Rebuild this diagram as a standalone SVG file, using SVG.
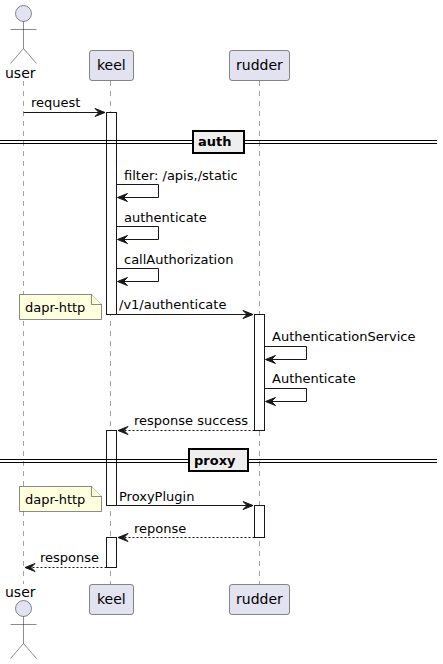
<svg xmlns="http://www.w3.org/2000/svg" width="443" height="664" viewBox="0 0 443 664">
<style>
text{font-family:"DejaVu Sans",sans-serif;font-size:13px;fill:#000}
.life{stroke:#181818;stroke-width:.5;stroke-dasharray:5 5;fill:none;opacity:.8}
.part{fill:#E2E2F0;stroke:#181818;stroke-width:.5}
.act{fill:#fff;stroke:#181818;stroke-width:1}
.msg{stroke:#181818;stroke-width:1;fill:none}
.dash{stroke-dasharray:2 2}
.head{fill:#181818;stroke:#181818;stroke-width:1}
.note{fill:#FEFFDD;stroke:#181818;stroke-width:.5}
.div{fill:#EEEEEE;stroke:#000;stroke-width:2}
.divl{stroke:#000;stroke-width:1;fill:none}
.b{font-weight:bold}
.n14{font-size:14px}
</style>
<defs>
<g id="ar"><polygon class="head" points="0,0 -10,-4 -6,0 -10,4"/></g>
<g id="al"><polygon class="head" points="0,0 10,-4 6,0 10,4"/></g>
</defs>
<g id="lifelines">
<line class="life" x1="23.5" y1="81" x2="23.5" y2="584"/>
<line class="life" x1="110.5" y1="81" x2="110.5" y2="584"/>
<line class="life" x1="259.5" y1="81" x2="259.5" y2="584"/>
</g>
<g id="activations">
<rect class="act" x="106.5" y="112.5" width="10" height="202"/>
<rect class="act" x="254.5" y="314.5" width="10" height="116"/>
<rect class="act" x="106.5" y="430.5" width="10" height="75"/>
<rect class="act" x="254.5" y="505.5" width="10" height="32"/>
<rect class="act" x="106.5" y="537.5" width="10" height="30"/>
</g>
<g id="connectors">
<line class="msg" x1="23.5" y1="112.5" x2="104" y2="112.5"/><use href="#ar" x="105" y="112.5"/>
<text x="31" y="107">request</text>
<path class="msg" d="M116.5 184.5H158.5V197.5H118"/><use href="#al" x="117.5" y="197.5"/>
<text x="124" y="180">filter: /apis,/static</text>
<path class="msg" d="M116.5 226.5H158.5V239.5H118"/><use href="#al" x="117.5" y="239.5"/>
<text x="124" y="222">authenticate</text>
<path class="msg" d="M116.5 268.5H158.5V281.5H118"/><use href="#al" x="117.5" y="281.5"/>
<text x="124" y="264">callAuthorization</text>
<line class="msg" x1="116.5" y1="314.5" x2="252" y2="314.5"/><use href="#ar" x="253" y="314.5"/>
<text x="119" y="309">/v1/authenticate</text>
<path class="msg" d="M264.5 346.5H306.5V359.5H266"/><use href="#al" x="265.5" y="359.5"/>
<text x="272" y="341">AuthenticationService</text>
<path class="msg" d="M264.5 388.5H306.5V401.5H266"/><use href="#al" x="265.5" y="401.5"/>
<text x="272" y="383">Authenticate</text>
<line class="msg dash" x1="254.5" y1="430.5" x2="119" y2="430.5"/><use href="#al" x="118" y="430.5"/>
<text x="134" y="425">response success</text>
<line class="msg" x1="116.5" y1="505.5" x2="252" y2="505.5"/><use href="#ar" x="253" y="505.5"/>
<text x="119" y="501">ProxyPlugin</text>
<line class="msg dash" x1="254.5" y1="537.5" x2="119" y2="537.5"/><use href="#al" x="118" y="537.5"/>
<text x="134" y="533">reponse</text>
<line class="msg dash" x1="106.5" y1="567.5" x2="26" y2="567.5"/><use href="#al" x="25" y="567.5"/>
<text x="40" y="562">response</text>
</g>
<g id="divider-auth">
<line class="divl" x1="0" y1="140.5" x2="437" y2="140.5"/><line class="divl" x1="0" y1="143.5" x2="437" y2="143.5"/>
<rect class="div" x="193" y="131" width="51" height="22"/>
<text class="b" x="198" y="146">auth</text>
</g>
<g id="divider-proxy">
<line class="divl" x1="0" y1="459.5" x2="437" y2="459.5"/><line class="divl" x1="0" y1="462.5" x2="437" y2="462.5"/>
<rect class="div" x="189" y="449" width="59" height="22"/>
<text class="b" x="194" y="465">proxy</text>
</g>
<g id="note-1">
<path class="note" d="M19.5 294.5H91.5L101.5 304.5V319.5H19.5Z"/><path class="note" d="M91.5 294.5V304.5H101.5"/>
<text x="25" y="312">dapr-http</text>
</g>
<g id="note-2">
<path class="note" d="M19.5 486.5H91.5L101.5 496.5V511.5H19.5Z"/><path class="note" d="M91.5 486.5V496.5H101.5"/>
<text x="25" y="504">dapr-http</text>
</g>
<g id="actor-user-top">
<circle class="part" cx="23.5" cy="13.5" r="8"/>
<path class="part" d="M23.5 21.5V48.5M10.5 29.5H36.5M23.5 48.5L10.5 63.5M23.5 48.5L36.5 63.5"/>
<text class="n14" x="5" y="78">user</text>
</g>
<g id="keel-top"><rect class="part" x="89.5" y="50.5" width="44" height="30" rx="2.5"/><text class="n14" x="97" y="70">keel</text></g>
<g id="rudder-top"><rect class="part" x="229.5" y="50.5" width="60" height="30" rx="2.5"/><text class="n14" x="236" y="70">rudder</text></g>
<g id="actor-user-bottom">
<text class="n14" x="5" y="597">user</text>
<circle class="part" cx="23.5" cy="608.5" r="8"/>
<path class="part" d="M23.5 616.5V643.5M10.5 624.5H36.5M23.5 643.5L10.5 658.5M23.5 643.5L36.5 658.5"/>
</g>
<g id="keel-bottom"><rect class="part" x="89.5" y="584.5" width="44" height="30" rx="2.5"/><text class="n14" x="97" y="604">keel</text></g>
<g id="rudder-bottom"><rect class="part" x="229.5" y="584.5" width="60" height="30" rx="2.5"/><text class="n14" x="236" y="604">rudder</text></g>
</svg>
